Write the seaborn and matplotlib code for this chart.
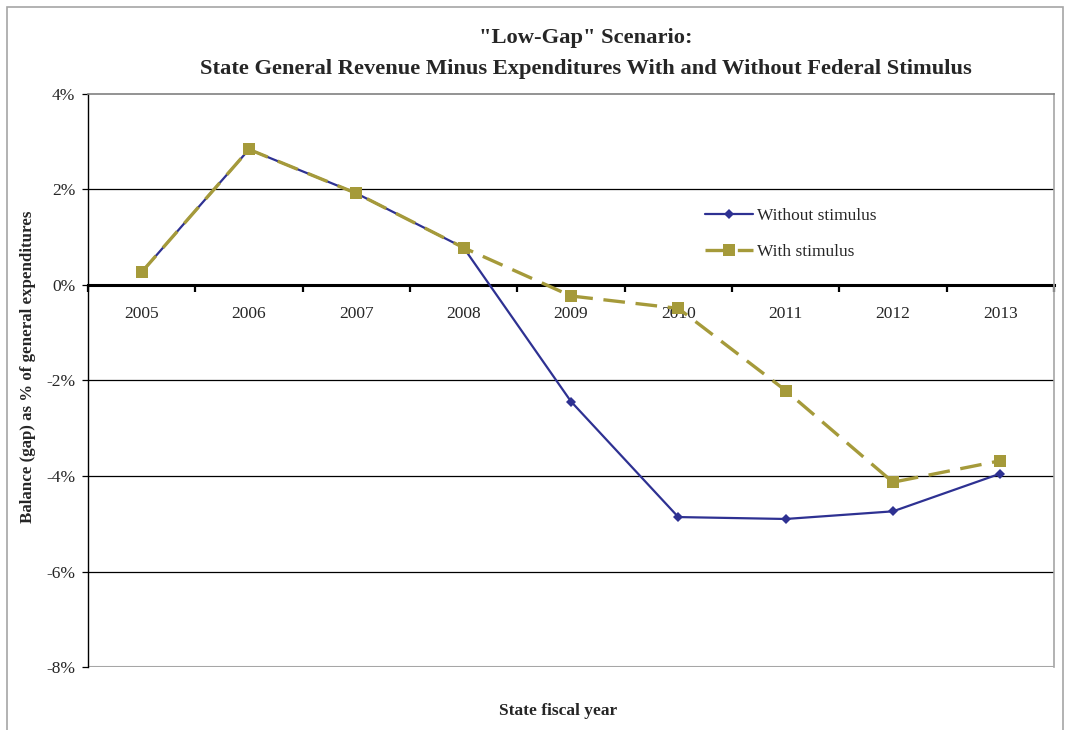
import seaborn as sns
import matplotlib.pyplot as plt
import matplotlib.patches as mpatches
import pandas as pd

plt.switch_backend('agg')

years = ['2005', '2006', '2007', '2008', '2009', '2010', '2011', '2012', '2013']
without_stimulus = [0.27, 2.84, 1.92, 0.78, -2.44, -4.86, -4.90, -4.74, -3.95]
with_stimulus = [0.27, 2.84, 1.92, 0.78, -0.23, -0.49, -2.21, -4.13, -3.68]
y_ticks = [4, 2, 0, -2, -4, -6, -8]

df = pd.DataFrame({
    'pos': list(range(len(years))) * 2,
    'value': without_stimulus + with_stimulus,
    'series': ['Without stimulus'] * len(years) + ['With stimulus'] * len(years),
})

sns.set_style('white')
plt.rcParams['font.family'] = ['Liberation Serif', 'DejaVu Serif']

fig = plt.figure(figsize=(10.71, 7.30), dpi=100)
ax = fig.add_axes([88 / 1071, 1 - 667 / 730, (1054 - 88) / 1071, (667 - 94) / 730])

# outer chart frame
fig.patches.append(mpatches.Rectangle((7 / 1071, -0.05), (1063 - 7) / 1071, 1.05 - 7 / 730,
                                      transform=fig.transFigure, fill=False,
                                      edgecolor='#a6a6a6', linewidth=1.2))

navy = '#2e3192'
olive = '#a59a3a'

sns.lineplot(data=df, x='pos', y='value', hue='series', style='series',
             palette={'Without stimulus': navy, 'With stimulus': olive},
             dashes={'Without stimulus': '', 'With stimulus': (6.5, 3.2)},
             markers={'Without stimulus': 'D', 'With stimulus': 's'},
             ax=ax, legend=False)
lines = ax.get_lines()
lines[0].set_linewidth(1.6)
lines[0].set_markersize(5.5)
lines[0].set_markeredgewidth(0)
lines[0].set_zorder(3)
lines[1].set_linewidth(2.4)
lines[1].set_markersize(8)
lines[1].set_markeredgewidth(0)
lines[1].set_zorder(4)

ax.set_xlim(-0.5, len(years) - 0.5)
ax.set_ylim(-8, 4)

for t in [2, -2, -4, -6]:
    ax.axhline(t, color='black', linewidth=0.9, zorder=1)
ax.axhline(-8, color='#a6a6a6', linewidth=1.5, zorder=1)

ax.set_yticks(y_ticks)
ax.set_yticklabels([f'{t}%' for t in y_ticks], fontsize=12.5)
ax.tick_params(axis='y', direction='out', length=4, width=0.9, color='black', left=True, pad=5)

ax.spines['bottom'].set_position(('data', 0))
ax.spines['bottom'].set_linewidth(2.2)
ax.spines['bottom'].set_color('black')
ax.spines['bottom'].set_zorder(2)
ax.spines['left'].set_color('black')
ax.spines['left'].set_linewidth(1)
ax.spines['top'].set_color('#808080')
ax.spines['top'].set_linewidth(1.2)
ax.spines['right'].set_color('#a6a6a6')
ax.spines['right'].set_linewidth(1.2)

ax.set_xticks(range(len(years)))
ax.set_xticklabels(years, fontsize=12.5)
ax.set_xticks([i - 0.5 for i in range(len(years) + 1)], minor=True)
ax.tick_params(axis='x', which='major', length=0, pad=15)
ax.tick_params(axis='x', which='minor', direction='out', length=5, width=1.6, color='black', bottom=True)

ax.set_xlabel('')
ax.set_ylabel('')

fig.text(28 / 1071, 1 - 367 / 730, 'Balance (gap) as % of general expenditures', rotation=90,
         ha='center', va='center', fontsize=12.2, fontweight='bold')
fig.text(558 / 1071, 1 - 711 / 730, 'State fiscal year', ha='center', va='center',
         fontsize=12.5, fontweight='bold')
fig.text(585.5 / 1071, 1 - 38 / 730, '"Low-Gap" Scenario:', ha='center', va='center',
         fontsize=16.2, fontweight='bold')
fig.text(585.5 / 1071, 1 - 69 / 730,
         'State General Revenue Minus Expenditures With and Without Federal Stimulus',
         ha='center', va='center', fontsize=16.2, fontweight='bold')

handles = [plt.Line2D([], [], color=navy, linewidth=1.6, marker='D', markersize=5.5, markeredgewidth=0),
           plt.Line2D([], [], color=olive, linewidth=2.4, linestyle=(0, (6.5, 3.2)), marker='s',
                      markersize=8, markeredgewidth=0)]
ax.legend(handles, ['Without stimulus', 'With stimulus'], frameon=False, fontsize=12.5,
          loc='upper left', bbox_to_anchor=(689 / 1071, 1 - 192 / 730), bbox_transform=fig.transFigure,
          handlelength=2.77, handletextpad=0.25, labelspacing=1.15)

fig.savefig('out.png', dpi=100)
